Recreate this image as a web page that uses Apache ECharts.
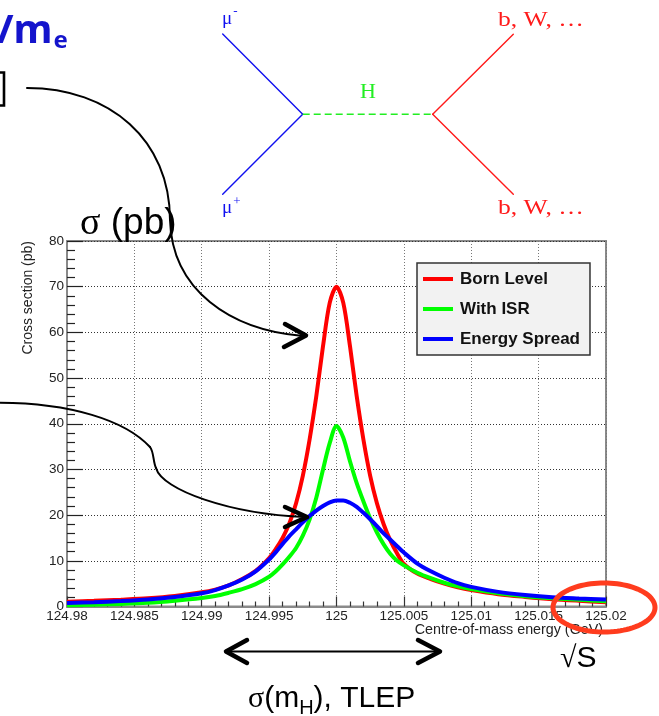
<!DOCTYPE html>
<html>
<head>
<meta charset="utf-8">
<script src="https://cdn.jsdelivr.net/npm/echarts@6/dist/echarts.min.js"></script>
<style>
  html, body { margin: 0; padding: 0; background: #ffffff; }
  #chart { width: 659px; height: 716px; }
</style>
</head>
<body>
<div id="chart"></div>
<script>
// Centre-of-mass energy samples (GeV)
const energy = [124.980, 124.982, 124.984, 124.986, 124.988, 124.990, 124.991, 124.992, 124.993, 124.994,
  124.995, 124.9955, 124.996, 124.9965, 124.997, 124.9975, 124.998, 124.9985, 124.999, 124.9995,
  125.000, 125.0005, 125.001, 125.0015, 125.002, 125.0025, 125.003, 125.0035, 125.004, 125.0045,
  125.005, 125.006, 125.007, 125.008, 125.009, 125.010, 125.012, 125.014, 125.016, 125.018, 125.020];

// Cross sections (pb)
const bornLevel = [1.05, 1.25, 1.5, 1.8, 2.3, 3.1, 3.7, 4.6, 6.0, 7.8,
  10.6, 12.6, 15.0, 18.2, 22.6, 28.6, 36.5, 46.0, 57.0, 66.5,
  70.0, 66.5, 57.0, 46.0, 36.5, 28.6, 22.6, 18.0, 14.4, 11.6,
  9.3, 7.2, 6.0, 5.0, 4.2, 3.6, 2.7, 2.1, 1.6, 1.25, 0.95];
const withISR = [0.3, 0.4, 0.55, 0.8, 1.25, 1.85, 2.3, 3.0, 3.8, 4.9,
  6.5, 7.7, 9.2, 10.9, 12.8, 15.5, 19.0, 23.8, 30.0, 35.8,
  39.5, 37.0, 31.8, 27.0, 23.0, 19.3, 16.2, 13.6, 11.5, 10.0,
  9.0, 7.4, 6.2, 5.2, 4.4, 3.8, 2.9, 2.25, 1.8, 1.45, 1.15];
const energySpread = [0.75, 0.95, 1.2, 1.55, 2.1, 2.9, 3.6, 4.6, 5.9, 7.7,
  10.3, 11.9, 13.7, 15.4, 16.9, 18.4, 19.8, 21.0, 22.0, 22.8,
  23.2, 23.2, 22.7, 21.8, 20.5, 19.1, 17.6, 16.0, 14.6, 13.2,
  11.8, 9.4, 7.7, 6.3, 5.1, 4.3, 3.2, 2.5, 2.0, 1.75, 1.55];

const seriesNames = ['Born Level', 'With ISR', 'Energy Spread'];
const seriesColors = ['#ff0000', '#00ff00', '#0000ff'];

const xTickLabels = ['124.98', '124.985', '124.99', '124.995', '125', '125.005', '125.01', '125.015', '125.02'];
const yTickLabels = ['0', '10', '20', '30', '40', '50', '60', '70', '80'];
const xMin = 124.98, xMax = 125.02, xStep = 0.005;
const yMin = 0, yMax = 80, yStep = 10;

const SANS = '"Liberation Sans", Arial, sans-serif';
const SERIF = '"Liberation Serif", "Times New Roman", serif';

// text helpers: place text by its alphabetic baseline
const mctx = document.createElement('canvas').getContext('2d');
function midOffset(font) {
  mctx.font = font;
  mctx.textBaseline = 'middle';
  return mctx.measureText('H').actualBoundingBoxDescent;
}
function textAt(x, baseline, text, font, fill, extra) {
  return Object.assign({
    type: 'text', x: x, y: baseline - midOffset(font), z: 100,
    style: { text: text, font: font, fill: fill, textAlign: 'left', textVerticalAlign: 'middle' }
  }, extra || {});
}
function textRun(x, baseline, parts) {
  const out = [];
  let cx = x;
  parts.forEach(p => {
    cx += (p.dx || 0);
    out.push(textAt(cx, baseline + (p.dy || 0), p.text, p.font, p.fill));
    mctx.font = p.font;
    cx += mctx.measureText(p.text).width;
  });
  return out;
}
function seg(x1, y1, x2, y2, color, w, extra) {
  return Object.assign({ type: 'line', z: 100, shape: { x1, y1, x2, y2 },
    style: { stroke: color, lineWidth: w, lineCap: 'round' } }, extra || {});
}
function curve(x1, y1, c1x, c1y, c2x, c2y, x2, y2, w) {
  return { type: 'bezierCurve', z: 100,
    shape: { x1: x1, y1: y1, cpx1: c1x, cpy1: c1y, cpx2: c2x, cpy2: c2y, x2: x2, y2: y2 },
    style: { stroke: '#000', lineWidth: w, fill: null, lineCap: 'round' } };
}
function chevron(pts) {
  return { type: 'polyline', z: 101, shape: { points: pts },
    style: { stroke: '#000', lineWidth: 4.5, fill: null, lineCap: 'round', lineJoin: 'round' } };
}

// ellipse outline around the upper end of the energy axis
const ellipsePts = [];
for (let k = 0; k < 96; k++) {
  const t = k / 96 * Math.PI * 2;
  ellipsePts.push([604 + 51 * Math.cos(t), 607.5 + 24.5 * Math.sin(t)]);
}

const blue = '#1010f0', green = '#22ee22', red = '#ff1a1a';
const fey = '19px ' + SERIF;

const graphics = [].concat(
  // blue heading fragment
  textRun(-3, 43, [
    { text: '/m', font: 'bold 40px "Noto Sans", sans-serif', fill: '#1414cc' },
    { text: 'e', font: 'bold 24px "Noto Sans", sans-serif', fill: '#1414cc', dy: 5, dx: 1 }
  ]),
  [{ type: 'polyline', z: 100, shape: { points: [[0, 72.5], [4, 72.5], [4, 105.5], [0, 105.5]] },
     style: { stroke: '#000', lineWidth: 2.6, fill: null } }],

  // Feynman diagram
  [
    seg(222.7, 34, 302.7, 114.3, blue, 1.4, { z: 90 }),
    seg(302.7, 114.3, 222.7, 194.3, blue, 1.4, { z: 90 }),
    { type: 'line', z: 90, shape: { x1: 302.7, y1: 114.3, x2: 432.7, y2: 114.3 },
      style: { stroke: green, lineWidth: 1.4, lineDash: [7, 4] } },
    seg(432.7, 114.3, 513.3, 34.3, red, 1.4, { z: 90 }),
    seg(432.7, 114.3, 513.3, 194.3, red, 1.4, { z: 90 })
  ],
  textRun(222, 24, [{ text: 'μ', font: fey, fill: blue }, { text: '-', font: '13px ' + SERIF, fill: blue, dy: -9, dx: 1 }]),
  textRun(222, 213, [{ text: 'μ', font: fey, fill: blue }, { text: '+', font: '13px ' + SERIF, fill: blue, dy: -8, dx: 1 }]),
  [textAt(360, 98, 'H', '22px ' + SERIF, green)],
  [textAt(498, 26, 'b, W, …', '20px ' + SERIF, red, { scaleX: 1.28 }),
   textAt(498, 214, 'b, W, …', '20px ' + SERIF, red, { scaleX: 1.28 })],

  // sigma (pb) heading above the frame
  textRun(80, 234, [
    { text: 'σ', font: '38px ' + SERIF, fill: '#000' },
    { text: ' (pb)', font: '37px ' + SANS, fill: '#000' }
  ]),

  // axis titles
  [{ type: 'text', x: 28, y: 241, rotation: Math.PI / 2, z: 100,
     style: { text: 'Cross section (pb)', font: '14px ' + SANS, fill: '#222', textAlign: 'right', textVerticalAlign: 'middle' } },
   { type: 'text', x: 603, y: 630, z: 100,
     style: { text: 'Centre-of-mass energy (GeV)', font: '14.3px ' + SANS, fill: '#222', textAlign: 'right', textVerticalAlign: 'middle' } }],

  // curved arrow towards the Born peak
  [curve(27, 88, 110, 88, 170, 140, 170, 220, 2),
   curve(170, 220, 172, 290, 230, 330, 303, 336, 2),
   chevron([[285, 324], [306, 335.5], [284, 347]])],

  // curved arrow towards the smeared curve
  [curve(0, 402.7, 70, 403, 125, 420, 150, 447, 2),
   curve(150, 447, 154, 452, 153, 462, 156, 468, 2),
   curve(156, 468, 162, 490, 230, 514, 305, 517, 2),
   chevron([[285, 507], [307, 517], [285, 527]])],

  // double-headed arrow and its caption
  [seg(227, 651.5, 439, 651.5, '#000', 2),
   chevron([[247, 640], [226, 651.5], [247, 663]]),
   chevron([[418, 640], [440, 651.5], [418, 663]])],
  textRun(248, 707, [
    { text: 'σ', font: '30px ' + SERIF, fill: '#000' },
    { text: '(m', font: '30px ' + SANS, fill: '#000' },
    { text: 'H', font: '20px ' + SANS, fill: '#000', dy: 7 },
    { text: '), TLEP', font: '30px ' + SANS, fill: '#000' }
  ]),

  // sqrt(s) label
  textRun(560, 667, [
    { text: '√', font: '30px ' + SERIF, fill: '#000' },
    { text: 'S', font: '30px ' + SANS, fill: '#000' }
  ]),

  // highlight ellipse
  [{ type: 'polygon', z: 110, shape: { points: ellipsePts },
     style: { stroke: '#ff3c1e', lineWidth: 5, fill: null } }]
);

const option = {
  animation: false,
  backgroundColor: '#ffffff',
  grid: {
    left: 67, top: 241, width: 539, height: 365.5,
    show: true, borderColor: '#8a8a8a', borderWidth: 2, backgroundColor: 'transparent'
  },
  xAxis: {
    type: 'value', min: xMin, max: xMax, interval: xStep,
    axisLine: { show: true, onZero: false, lineStyle: { color: '#8a8a8a', width: 2 } },
    axisTick: { show: true, inside: true, length: 10, lineStyle: { color: '#333', width: 1.2 } },
    minorTick: { show: true, splitNumber: 5, length: 5, lineStyle: { color: '#333', width: 1.2 } },
    splitLine: { show: true, lineStyle: { color: '#777', width: 1, type: [1, 2] } },
    axisLabel: {
      fontFamily: SANS, fontSize: 13.5, color: '#222', margin: 3,
      showMinLabel: true, showMaxLabel: true, hideOverlap: false,
      formatter: v => xTickLabels[Math.round((v - xMin) / xStep)]
    }
  },
  yAxis: {
    type: 'value', min: yMin, max: yMax, interval: yStep,
    axisLine: { show: true, onZero: false, lineStyle: { color: '#8a8a8a', width: 2 } },
    axisTick: { show: true, inside: true, length: 16, lineStyle: { color: '#222', width: 1.2 } },
    minorTick: { show: true, splitNumber: 5, length: 8, lineStyle: { color: '#222', width: 1.2 } },
    splitLine: { show: true, lineStyle: { color: '#333', width: 1, type: [1, 2] } },
    axisLabel: {
      fontFamily: SANS, fontSize: 13.5, color: '#222', margin: 3,
      showMinLabel: true, showMaxLabel: true,
      formatter: v => yTickLabels[Math.round((v - yMin) / yStep)]
    }
  },
  legend: {
    orient: 'vertical', left: 417, top: 263,
    backgroundColor: '#f2f2f2', borderColor: '#333', borderWidth: 1.5,
    padding: [6, 10, 6, 6], itemGap: 10, itemWidth: 30, itemHeight: 4,
    icon: 'rect', selectedMode: false,
    textStyle: { fontFamily: SANS, fontWeight: 'bold', fontSize: 17, color: '#111', lineHeight: 20, padding: [0, 0, 0, 2] },
    data: seriesNames
  },
  series: [bornLevel, withISR, energySpread].map((vals, i) => ({
    type: 'line',
    name: seriesNames[i],
    data: energy.map((e, k) => [e, vals[k]]),
    showSymbol: false, symbol: 'none',
    smooth: 0.3,
    lineStyle: { width: 4, color: seriesColors[i] },
    itemStyle: { color: seriesColors[i] },
    z: 3 + i
  })),
  graphic: { elements: graphics }
};

const chart = echarts.init(document.getElementById('chart'), null, { renderer: 'canvas' });
chart.setOption(option);
</script>
</body>
</html>
